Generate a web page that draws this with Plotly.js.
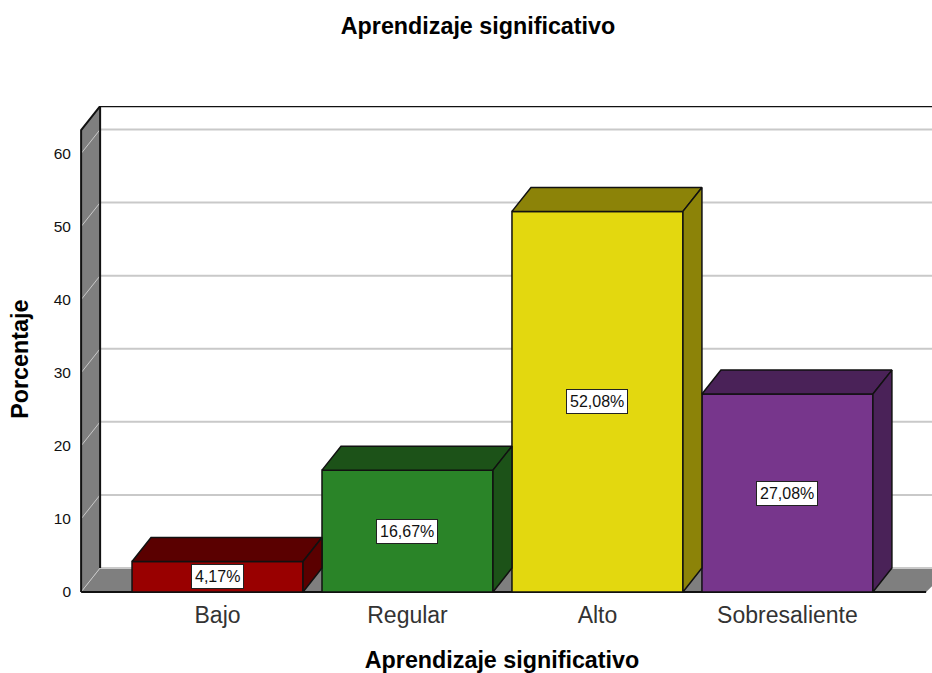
<!DOCTYPE html>
<html>
<head>
<meta charset="utf-8">
<script src="https://cdn.plot.ly/plotly-3.0.1.min.js"></script>
<style>html,body{margin:0;padding:0;background:#fff}#chart{width:932px;height:673px}</style>
</head>
<body>
<div id="chart"></div>
<script>
const categories = ['Bajo', 'Regular', 'Alto', 'Sobresaliente'];
const values = [4.17, 16.67, 52.08, 27.08];
const valueLabels = ['4,17%', '16,67%', '52,08%', '27,08%'];
const frontColors = ['#990000', '#2a8428', '#e3d80f', '#77368c'];
const shadeColors = ['#5a0000', '#1c5218', '#8c8308', '#4a2258'];
const yTicks = [0, 10, 20, 30, 40, 50, 60];

const positions = categories.map((_, i) => i);
const barWidth = 0.9;
const depthX = 0.1;
const depthY = 3.28;
const wallLeft = -0.718;
const wallRight = 3.761;
const floorRight = 3.73;
const wallTop = 63.2;
const edge = '#111';
const wallGray = '#7f7f7f';
const gridGray = '#c9c9c9';

const path = pts => 'M' + pts.map(p => p[0] + ' ' + p[1]).join(' L') + ' Z';
const openPath = pts => 'M' + pts.map(p => p[0] + ' ' + p[1]).join(' L');
const bx = wallLeft + depthX;

const shapes = [
  {type: 'path', layer: 'below', path: path([[wallLeft, 0], [bx, depthY], [bx, wallTop + depthY], [wallLeft, wallTop]]),
   fillcolor: wallGray, line: {width: 0}},
  {type: 'path', layer: 'below', path: path([[wallLeft, 0], [bx, depthY], [wallRight + depthX, depthY], [floorRight, 0]]),
   fillcolor: wallGray, line: {width: 0}}
];
yTicks.forEach(t => {
  shapes.push({type: 'path', layer: 'below', path: openPath([[wallLeft, t], [bx, t + depthY]]),
    line: {color: gridGray, width: 1}});
  shapes.push({type: 'path', layer: 'below', path: openPath([[bx, t + depthY], [wallRight + depthX, t + depthY]]),
    line: {color: gridGray, width: 2}});
});
shapes.push({type: 'path', layer: 'below',
  path: openPath([[wallLeft, 0], [wallLeft, wallTop], [bx, wallTop + depthY], [wallRight + depthX, wallTop + depthY]]),
  line: {color: edge, width: 2}});
shapes.push({type: 'path', layer: 'below', path: openPath([[bx, wallTop + depthY], [bx, depthY]]),
  line: {color: edge, width: 2}});
shapes.push({type: 'path', layer: 'below', path: openPath([[wallLeft, 0], [floorRight, 0]]),
  line: {color: edge, width: 2}});

const traces = [{
  type: 'bar',
  x: positions,
  y: values,
  width: barWidth,
  marker: {color: frontColors, line: {color: edge, width: 1.5}},
  hoverinfo: 'skip'
}];
values.forEach((v, i) => {
  const l = i - barWidth / 2, r = i + barWidth / 2;
  traces.push({
    type: 'scatter', mode: 'lines', fill: 'toself', fillcolor: shadeColors[i],
    x: [l, l + depthX, r + depthX, r, l],
    y: [v, v + depthY, v + depthY, v, v],
    line: {color: edge, width: 1.5}, hoverinfo: 'skip'
  });
  traces.push({
    type: 'scatter', mode: 'lines', fill: 'toself', fillcolor: shadeColors[i],
    x: [r, r + depthX, r + depthX, r, r],
    y: [v, v + depthY, depthY, 0, v],
    line: {color: edge, width: 1.5}, hoverinfo: 'skip'
  });
});

const annotations = values.map((v, i) => ({
  x: i, y: v / 2, xref: 'x', yref: 'y', text: valueLabels[i], showarrow: false,
  font: {family: 'Liberation Sans, Arial, sans-serif', size: 16, color: '#111'},
  bgcolor: '#fff', bordercolor: '#222', borderwidth: 1, borderpad: 3
}));

const layout = {
  width: 932, height: 673,
  margin: {l: 72, r: 0, t: 106, b: 80, pad: 0},
  paper_bgcolor: '#fff', plot_bgcolor: '#fff',
  showlegend: false,
  font: {family: 'Liberation Sans, Arial, sans-serif', color: '#111'},
  title: {text: '<b>Aprendizaje significativo</b>', x: 478 / 932, xanchor: 'center', xref: 'container',
    y: 1 - 26 / 673, yanchor: 'middle', font: {size: 23.3, color: '#000'}},
  xaxis: {
    range: [-0.766, 3.761], tickmode: 'array', tickvals: positions, ticktext: categories,
    showgrid: false, zeroline: false, showline: false, ticks: '', ticklabelstandoff: 6,
    tickfont: {size: 23, color: '#333'},
    title: {text: '<b>Aprendizaje significativo</b>', font: {size: 23.3, color: '#000'}, standoff: 29}
  },
  yaxis: {
    range: [-0.14, 66.5], tickmode: 'array', tickvals: yTicks,
    showgrid: false, zeroline: false, showline: false, ticks: '',
    tickfont: {size: 15.5, color: '#111'},
    title: {text: '<b>Porcentaje\u00a0\u00a0\u00a0</b>', font: {size: 23.3, color: '#000'}, standoff: 18}
  },
  shapes, annotations
};
Plotly.newPlot('chart', traces, layout, {displayModeBar: false, staticPlot: true});
</script>
</body>
</html>
